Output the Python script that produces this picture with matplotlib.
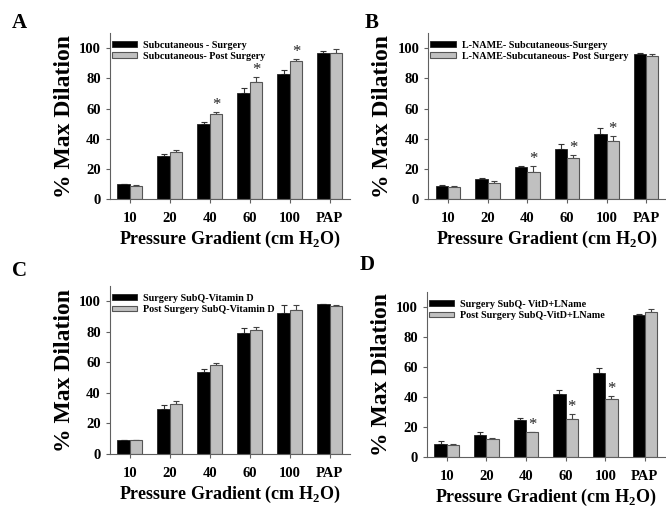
import matplotlib
matplotlib.use("Agg")
import matplotlib.pyplot as plt
import numpy as np

plt.rcParams['font.family'] = ['Liberation Serif', 'DejaVu Serif']
plt.rcParams['font.weight'] = 'bold'
plt.rcParams['mathtext.fontset'] = 'custom'
plt.rcParams['mathtext.bf'] = 'Liberation Serif:bold'
plt.rcParams['mathtext.rm'] = 'Liberation Serif:bold'

categories = ['10', '20', '40', '60', '100', 'PAP']

# Panel A
a_labels = ['Subcutaneous - Surgery', 'Subcutaneous- Post Surgery']
a_pre = [9.8, 28.5, 49.5, 70.5, 82.6, 96.9]
a_pre_err = [0.4, 1.5, 1.5, 3.3, 2.7, 1.0]
a_post = [8.8, 31.2, 56.2, 77.3, 91.5, 96.6]
a_post_err = [0.4, 1.6, 1.3, 3.8, 1.3, 3.0]
a_sig = [2, 3, 4]

# Panel B
b_labels = ['L-NAME- Subcutaneous-Surgery', 'L-NAME-Subcutaneous- Post Surgery']
b_pre = [8.4, 13.2, 21.0, 33.1, 43.3, 96.0]
b_pre_err = [0.6, 0.6, 0.6, 3.5, 3.8, 1.0]
b_post = [7.9, 10.6, 17.7, 27.1, 38.6, 95.0]
b_post_err = [0.5, 1.5, 4.0, 2.0, 3.3, 1.0]
b_sig = [2, 3, 4]

# Panel C
c_labels = ['Surgery SubQ-Vitamin D', 'Post Surgery SubQ-Vitamin D']
c_pre = [9.0, 29.8, 54.0, 79.0, 92.5, 98.0]
c_pre_err = [0.5, 2.0, 1.8, 3.5, 4.8, 0.5]
c_post = [9.0, 33.0, 58.0, 81.5, 94.0, 97.2]
c_post_err = [0.5, 1.7, 1.5, 1.5, 3.8, 0.5]
c_sig = []

# Panel D
d_labels = ['Surgery SubQ- VitD+LName', 'Post Surgery SubQ-VitD+LName']
d_pre = [8.9, 15.0, 24.9, 42.2, 56.4, 94.9]
d_pre_err = [1.5, 1.5, 1.2, 2.7, 2.9, 0.8]
d_post = [8.2, 12.0, 16.6, 25.3, 38.7, 97.1]
d_post_err = [0.3, 0.4, 0.4, 3.4, 2.3, 2.0]
d_sig = [2, 3, 4]

panels = [
    ('A', [0.165, 0.609, 0.360, 0.326], a_labels, a_pre, a_pre_err, a_post, a_post_err, a_sig),
    ('B', [0.643, 0.609, 0.357, 0.326], b_labels, b_pre, b_pre_err, b_post, b_post_err, b_sig),
    ('C', [0.165, 0.108, 0.360, 0.330], c_labels, c_pre, c_pre_err, c_post, c_post_err, c_sig),
    ('D', [0.641, 0.102, 0.357, 0.324], d_labels, d_pre, d_pre_err, d_post, d_post_err, d_sig),
]
letter_pos = {'A': (0.018, 0.955), 'B': (0.548, 0.955), 'C': (0.018, 0.468), 'D': (0.540, 0.479)}

fig = plt.figure(figsize=(6.66, 5.09), dpi=100)
x = np.arange(len(categories))
w = 0.31
spine_col = '#606060'

for letter, rect, labels, pre, pre_err, post, post_err, sig in panels:
    ax = fig.add_axes(rect)
    zeros = [0] * len(pre)
    ax.bar(x - w / 2, pre, w, color='black', edgecolor='#222222', linewidth=0.6,
           label=labels[0], zorder=2)
    ax.bar(x + w / 2, post, w, color='#c0c0c0', edgecolor='#555555', linewidth=0.8,
           label=labels[1], zorder=2)
    ax.errorbar(x - w / 2, pre, yerr=[zeros, pre_err], fmt='none', ecolor='#333333',
                elinewidth=0.8, capsize=2.5, capthick=0.8, zorder=1)
    ax.errorbar(x + w / 2, post, yerr=[zeros, post_err], fmt='none', ecolor='#444444',
                elinewidth=0.8, capsize=2.5, capthick=0.8, zorder=1)
    for i in sig:
        ax.text(x[i] + w / 2, post[i] + post_err[i] + 4.5, '*', ha='center', va='center',
                fontsize=12, fontweight='normal', color='#222222')

    ax.set_xlim(-0.5, 5.5)
    ax.set_ylim(0, 110)
    ax.set_yticks([0, 20, 40, 60, 80, 100])
    ax.set_xticks(x)
    ax.set_xticklabels(categories)
    for s in ['top', 'right']:
        ax.spines[s].set_visible(False)
    for s in ['left', 'bottom']:
        ax.spines[s].set_color(spine_col)
        ax.spines[s].set_linewidth(0.8)
    ax.tick_params(axis='both', colors=spine_col, labelcolor='black', labelsize=10.5,
                   width=0.8, length=3)
    ax.tick_params(axis='x', pad=6)
    for t in ax.get_xticklabels() + ax.get_yticklabels():
        t.set_fontweight('bold')
    ax.set_ylabel('% Max Dilation', fontsize=17, fontweight='bold', labelpad=3)
    ax.set_xlabel(r'Pressure Gradient (cm H$_{\mathbf{2}}$O)', fontsize=13,
                  fontweight='bold', labelpad=3)
    ax.legend(loc='upper left', bbox_to_anchor=(0.0, 0.965), frameon=False,
              prop={'family': 'Liberation Serif', 'weight': 'bold', 'size': 7.3},
              handlelength=2.5, handleheight=0.5, handletextpad=0.6,
              labelspacing=0.2, borderaxespad=0.0, borderpad=0.2)
    fig.text(*letter_pos[letter], letter, fontsize=15, fontweight='bold',
             ha='left', va='center')

fig.savefig('out.png', dpi=100)
